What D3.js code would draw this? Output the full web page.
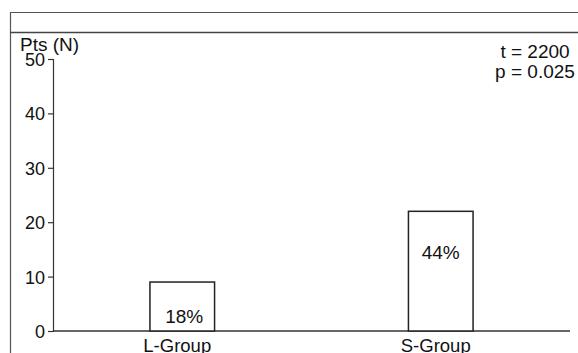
<!DOCTYPE html>
<html>
<head>
<meta charset="utf-8">
<script src="https://cdn.jsdelivr.net/npm/d3@7"></script>
<style>
    body { margin: 0; background: #fff; }
    svg { display: block; font-family: "Liberation Sans", Arial, sans-serif; }
</style>
</head>
<body>
<div class="chart-container"></div>
<script>
// Chart params
const width = 578;
const height = 353;

// Data
const groups = ['L-Group', 'S-Group'];
const patients = [9, 22];
const percents = ['18%', '44%'];
const yTicks = [0, 10, 20, 30, 40, 50];
const stats = ['t = 2200', 'p = 0.025'];

const margin = { left: 53, right: 8, top: 59, bottom: 22 };

// Draw the chart
function drawChart() {

    var svg = d3.select('.chart-container')
        .append('svg')
        .attr('width', width)
        .attr('height', height);

    // Frame round the figure
    svg.append('path')
        .attr('d', 'M578,12.5H10.5V353')
        .attr('fill', 'none')
        .attr('stroke', '#555')
        .attr('stroke-width', 1.2);

    svg.append('line')
        .attr('x1', 10).attr('x2', 578)
        .attr('y1', 32.5).attr('y2', 32.5)
        .attr('stroke', '#444')
        .attr('stroke-width', 1.5);

    // Scales
    let x = d3.scaleBand()
        .domain(groups)
        .range([margin.left, width - margin.right])
        .paddingInner(0.75)
        .paddingOuter(0.375);

    let y = d3.scaleLinear()
        .domain([0, 50])
        .range([height - margin.bottom, margin.top]);

    // Y axis
    var yAxis = svg.append('g')
        .attr('transform', `translate(${margin.left},0)`)
        .call(d3.axisLeft(y).tickValues(yTicks).tickSize(5).tickPadding(3));

    yAxis.select('.domain').attr('stroke', '#333').attr('stroke-width', 1.2);
    yAxis.selectAll('.tick line').attr('stroke', '#333').attr('stroke-width', 1.2);
    yAxis.selectAll('.tick text')
        .attr('fill', '#111')
        .attr('font-size', 18)
        .attr('font-family', '"Liberation Sans", Arial, sans-serif')
        .attr('dy', '0.36em');

    // X axis line
    svg.append('line')
        .attr('x1', margin.left).attr('x2', width - margin.right)
        .attr('y1', y(0)).attr('y2', y(0))
        .attr('stroke', '#333')
        .attr('stroke-width', 1.5);

    // Bars
    svg.selectAll('.bar')
        .data(patients)
        .enter()
        .append('rect')
        .attr('class', 'bar')
        .attr('x', (d, i) => x(groups[i]))
        .attr('y', d => y(d))
        .attr('width', x.bandwidth())
        .attr('height', d => y(0) - y(d))
        .attr('fill', '#fff')
        .attr('stroke', '#222')
        .attr('stroke-width', 1.5);

    // Percent labels: inside bar near bottom for short bar, near top for tall one
    svg.selectAll('.pct')
        .data(percents)
        .enter()
        .append('text')
        .attr('class', 'pct')
        .attr('x', (d, i) => x(groups[i]) + x.bandwidth() / 2 + (i === 0 ? 2 : 0))
        .attr('y', (d, i) => i === 0 ? y(0) - 8 : y(patients[i]) + 48)
        .attr('text-anchor', 'middle')
        .attr('font-size', 19)
        .attr('fill', '#111')
        .text(d => d);

    // Category labels
    svg.selectAll('.cat')
        .data(groups)
        .enter()
        .append('text')
        .attr('class', 'cat')
        .attr('x', d => x(d) + x.bandwidth() / 2 - 5)
        .attr('y', y(0) + 21)
        .attr('text-anchor', 'middle')
        .attr('font-size', 18.5)
        .attr('fill', '#111')
        .text(d => d);

    // Y axis title
    svg.append('text')
        .attr('x', 20)
        .attr('y', 51)
        .attr('font-size', 19)
        .attr('fill', '#111')
        .text('Pts (N)');

    // Stats
    svg.selectAll('.stat')
        .data(stats)
        .enter()
        .append('text')
        .attr('class', 'stat')
        .attr('x', 535)
        .attr('y', (d, i) => 58 + i * 20)
        .attr('text-anchor', 'middle')
        .attr('font-size', 19)
        .attr('fill', '#111')
        .text(d => d);
}

window.onload = function () {
    drawChart();
};
</script>
</body>
</html>
